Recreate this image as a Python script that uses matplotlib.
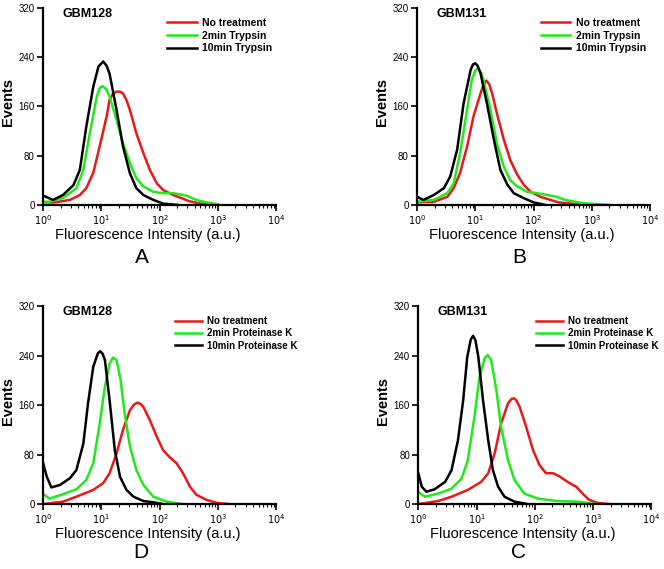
import matplotlib.pyplot as plt
import numpy as np

plt.rcParams['font.family'] = ['Liberation Sans', 'DejaVu Sans']

# (log10 intensity, events)
a_red_x = [0, 0.2, 0.46, 0.63, 0.74, 0.86, 0.97, 1.09, 1.14, 1.2, 1.26, 1.32, 1.37, 1.43, 1.49, 1.6, 1.72, 1.83, 1.95, 2.06, 2.23, 2.4, 2.5, 2.7, 3.0]
a_red_y = [4, 4, 8, 16, 27, 52, 95, 144, 171, 181, 184, 184, 181, 170, 154, 116, 84, 57, 35, 24, 16, 10, 6, 2, 0]
a_grn_x = [0, 0.11, 0.34, 0.57, 0.69, 0.8, 0.92, 0.97, 1.02, 1.08, 1.14, 1.26, 1.37, 1.49, 1.6, 1.72, 1.89, 2.06, 2.23, 2.4, 2.46, 2.55, 2.63, 2.8, 3.0]
a_grn_y = [5, 5, 11, 27, 57, 116, 176, 190, 193, 188, 176, 138, 100, 68, 43, 30, 21, 19, 19, 16, 15, 11, 8, 4, 1]
a_blk_x = [0, 0.17, 0.34, 0.52, 0.63, 0.74, 0.86, 0.95, 1.03, 1.09, 1.14, 1.26, 1.37, 1.49, 1.6, 1.72, 1.89, 2.06, 2.3]
a_blk_y = [15, 8, 16, 32, 57, 127, 192, 225, 233, 226, 213, 154, 95, 51, 27, 16, 8, 2, 0]

b_red_x = [0, 0.29, 0.52, 0.63, 0.74, 0.86, 0.97, 1.09, 1.14, 1.19, 1.24, 1.29, 1.37, 1.49, 1.6, 1.72, 1.83, 1.95, 2.12, 2.29, 2.43, 2.66, 2.9]
b_red_y = [4, 5, 13, 27, 52, 95, 144, 181, 195, 202, 196, 181, 149, 106, 73, 49, 33, 21, 13, 8, 4, 2, 0]
b_grn_x = [0, 0.29, 0.52, 0.63, 0.74, 0.86, 0.94, 1.0, 1.05, 1.1, 1.14, 1.26, 1.37, 1.49, 1.6, 1.72, 1.89, 2.06, 2.23, 2.4, 2.54, 2.83, 3.11, 3.3]
b_grn_y = [5, 8, 19, 35, 84, 155, 203, 218, 222, 215, 203, 155, 100, 62, 40, 30, 21, 19, 16, 13, 8, 3, 1, 0]
b_blk_x = [0, 0.11, 0.29, 0.46, 0.57, 0.69, 0.8, 0.92, 0.96, 1.0, 1.04, 1.09, 1.2, 1.32, 1.43, 1.55, 1.66, 1.83, 2.0, 2.2]
b_blk_y = [13, 8, 16, 27, 46, 90, 165, 219, 228, 230, 226, 214, 165, 106, 57, 33, 19, 11, 4, 0]

d_red_x = [0, 0.34, 0.57, 0.86, 1.03, 1.14, 1.26, 1.37, 1.49, 1.56, 1.62, 1.67, 1.72, 1.83, 1.95, 2.06, 2.17, 2.29, 2.4, 2.52, 2.63, 2.8, 2.98, 3.2]
d_red_y = [0, 4, 12, 23, 34, 50, 82, 120, 152, 161, 164, 162, 157, 136, 109, 87, 76, 66, 50, 28, 15, 7, 2, 0]
d_grn_x = [0, 0.11, 0.34, 0.57, 0.74, 0.86, 0.97, 1.06, 1.14, 1.2, 1.26, 1.33, 1.4, 1.49, 1.6, 1.72, 1.89, 2.12, 2.4]
d_grn_y = [16, 9, 16, 24, 39, 66, 130, 190, 227, 237, 233, 200, 146, 93, 55, 31, 12, 4, 0]
d_blk_x = [0, 0.06, 0.14, 0.29, 0.46, 0.57, 0.69, 0.77, 0.86, 0.94, 0.98, 1.02, 1.06, 1.14, 1.23, 1.32, 1.43, 1.55, 1.72, 1.89, 2.06]
d_blk_y = [66, 45, 27, 31, 42, 55, 98, 163, 222, 244, 247, 243, 233, 168, 87, 44, 23, 12, 5, 3, 0]

c_red_x = [0, 0.34, 0.57, 0.85, 1.08, 1.2, 1.31, 1.42, 1.54, 1.6, 1.64, 1.68, 1.74, 1.85, 1.97, 2.08, 2.19, 2.31, 2.42, 2.56, 2.71, 2.82, 2.93, 3.08, 3.3]
c_red_y = [0, 5, 12, 23, 36, 50, 82, 130, 163, 170, 171, 168, 157, 125, 87, 63, 50, 50, 45, 36, 28, 17, 7, 2, 0]
c_grn_x = [0, 0.11, 0.34, 0.57, 0.74, 0.85, 0.97, 1.05, 1.14, 1.19, 1.25, 1.34, 1.42, 1.54, 1.65, 1.82, 2.05, 2.39, 2.74, 2.96, 3.1]
c_grn_y = [20, 12, 17, 25, 41, 71, 146, 206, 236, 241, 233, 184, 125, 71, 39, 17, 9, 5, 4, 1, 0]
c_blk_x = [0, 0.06, 0.14, 0.28, 0.46, 0.57, 0.68, 0.77, 0.84, 0.9, 0.94, 0.98, 1.03, 1.11, 1.2, 1.28, 1.37, 1.48, 1.65, 1.88]
c_blk_y = [50, 28, 20, 24, 36, 55, 103, 168, 238, 266, 272, 265, 238, 168, 103, 55, 28, 12, 4, 0]

trypsin_labels = ['No treatment', '2min Trypsin', '10min Trypsin']
protk_labels = ['No treatment', '2min Proteinase K', '10min Proteinase K']
colors = ['#e8191b', '#22e81e', '#000000']

fig = plt.figure(figsize=(6.64, 5.69), dpi=100)


def panel(rect, curves, labels, title, letter, leg_x, leg_size, letter_x, letter_y):
    ax = fig.add_axes(rect)
    for (xs, ys), lab, col in zip(curves, labels, colors):
        ax.plot(10 ** np.array(xs), ys, color=col, lw=1.8, label=lab)
    ax.set_xscale('log')
    ax.set_xlim(1, 1e4)
    ax.set_ylim(0, 320)
    ax.set_yticks([0, 80, 160, 240, 320])
    ax.set_xticks([1, 10, 100, 1000, 10000])
    ax.set_xticklabels([r'$10^0$', r'$10^1$', r'$10^2$', r'$10^3$', r'$10^4$'])
    for s in ['top', 'right']:
        ax.spines[s].set_visible(False)
    for s in ['left', 'bottom']:
        ax.spines[s].set_linewidth(1.6)
    ax.tick_params(axis='both', which='major', labelsize=7, width=1.2, length=4, pad=2)
    ax.tick_params(axis='x', which='minor', width=0.8, length=2.5)
    ax.set_ylabel('Events', fontsize=10.5, fontweight='bold')
    ax.yaxis.set_label_coords(-0.12, 0.52)
    ax.set_xlabel('Fluorescence Intensity (a.u.)', fontsize=10.5)
    ax.xaxis.set_label_coords(0.45, -0.118)
    ax.text(0.19, 1.0, title, transform=ax.transAxes, ha='center', va='top',
            fontsize=9, fontweight='bold')
    ax.legend(loc='upper left', bbox_to_anchor=(leg_x, 0.97), frameon=False,
              prop={'weight': 'bold', 'size': leg_size},
              handlelength=2.8, handletextpad=0.5, labelspacing=0.25, borderaxespad=0)
    ax.text(letter_x, letter_y, letter, transform=ax.transAxes, ha='center', va='center',
            fontsize=15)
    return ax


panel([0.065, 0.640, 0.351, 0.346], [(a_red_x, a_red_y), (a_grn_x, a_grn_y), (a_blk_x, a_blk_y)],
      trypsin_labels, 'GBM128', 'A', 0.515, 7.5, 0.425, -0.27)
panel([0.628, 0.640, 0.351, 0.346], [(b_red_x, b_red_y), (b_grn_x, b_grn_y), (b_blk_x, b_blk_y)],
      trypsin_labels, 'GBM131', 'B', 0.515, 7.5, 0.44, -0.27)
panel([0.065, 0.114, 0.351, 0.348], [(d_red_x, d_red_y), (d_grn_x, d_grn_y), (d_blk_x, d_blk_y)],
      protk_labels, 'GBM128', 'D', 0.547, 7, 0.417, -0.245)
panel([0.630, 0.114, 0.351, 0.348], [(c_red_x, c_red_y), (c_grn_x, c_grn_y), (c_blk_x, c_blk_y)],
      protk_labels, 'GBM131', 'C', 0.487, 7, 0.43, -0.245)

fig.savefig('out.png', dpi=100)
